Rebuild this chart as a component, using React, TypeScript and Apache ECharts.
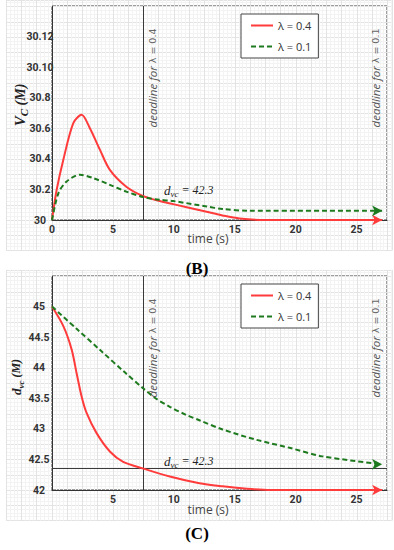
import React, { useEffect, useRef } from "react";
import * as echarts from "echarts";

// ---------- data ----------
const seriesNames = ["λ = 0.4", "λ = 0.1"];

// Panel B: V_C, plotted on a 0..7 index scale with custom labels
const bYLabels = ["30", "30.2", "30.4", "30.6", "30.8", "30.10", "30.12"];
const bRedT = [0, 0.38, 0.93, 1.75, 2.43, 3.11, 3.93, 4.75, 6.1, 7.5, 8.85, 9.95, 12.7, 14, 15.4, 17.5, 27.1];
const bRedV = [0, 0.98, 1.97, 3.17, 3.44, 3.0, 2.3, 1.64, 1.09, 0.78, 0.62, 0.52, 0.27, 0.15, 0.05, 0, 0];
const bGreenT = [0, 0.52, 1.2, 2.3, 3.39, 4.75, 6.1, 7.5, 8.85, 9.95, 12.7, 14, 16.2, 27.1];
const bGreenV = [0, 0.87, 1.26, 1.48, 1.37, 1.15, 0.93, 0.75, 0.66, 0.62, 0.44, 0.36, 0.3, 0.3];

// Panel C: d_vc
const cYLabels = ["42", "42.5", "43", "43.5", "44", "44.5", "45"];
const cRedT = [0, 0.93, 1.61, 2.02, 2.43, 2.84, 3.66, 4.75, 5.84, 7.5, 9.67, 12.1, 14, 16, 18, 27.1];
const cRedV = [45, 44.68, 44.3, 43.91, 43.53, 43.26, 42.93, 42.63, 42.46, 42.35, 42.22, 42.11, 42.06, 42.02, 42, 42];
const cGreenT = [0, 2, 4, 6, 7.5, 8.5, 9.67, 11, 12.1, 14, 16.8, 19.5, 22.2, 27.1];
const cGreenV = [45, 44.64, 44.28, 43.92, 43.66, 43.5, 43.36, 43.23, 43.14, 42.99, 42.82, 42.69, 42.55, 42.42];

const deadline04 = 7.5;
const dvcLine = 42.35;
const xTicks = [0, 5, 10, 15, 20, 25];

const RED = "#ff3b3b";
const GREEN = "#1e7a1e";

function mkSeries(name: string, t: number[], v: number[], color: string, dashed: boolean, axis: number, markLineData?: any[]) {
  const data = t.map((x, i) =>
    i === t.length - 1
      ? { value: [x, v[i]], symbol: "arrow", symbolSize: [8, 10], symbolRotate: -90, itemStyle: { color } }
      : [x, v[i]]
  );
  const s: any = {
    type: "line",
    name,
    xAxisIndex: axis,
    yAxisIndex: axis,
    data,
    smooth: 0.3,
    symbol: "none",
    lineStyle: { color, width: 2, type: dashed ? [5, 3] : "solid" },
    itemStyle: { color },
    z: 5,
  };
  if (markLineData) {
    s.markLine = {
      silent: true,
      symbol: "none",
      label: { show: false },
      lineStyle: { color: "#3a3a3a", width: 1, type: "solid" },
      data: markLineData,
    };
  }
  return s;
}

function bgAxes(gridIndex: number) {
  const common = {
    gridIndex,
    type: "value",
    min: 0,
    interval: 1,
    axisLine: { show: false },
    axisTick: { show: false },
    axisLabel: { show: false },
    splitLine: { show: true, lineStyle: { color: "#e3e3e3", width: 1 } },
    minorTick: { show: false, splitNumber: 4 },
    minorSplitLine: { show: true, lineStyle: { color: "#f3f3f3", width: 1 } },
  };
  return {
    x: { ...common, max: 25.3 },
    y: { ...common, max: 16.43 },
  };
}

const tickFont = { color: "#333", fontSize: 10.5, fontWeight: "bold" as const, fontFamily: "Roboto" };

function dataXAxis(gridIndex: number, showZero: boolean) {
  return {
    gridIndex,
    type: "value",
    min: 0,
    max: 27.5,
    interval: 5,
    axisLine: { show: true, lineStyle: { color: "#333", width: 1 } },
    axisTick: { show: false },
    splitLine: { show: false },
    axisLabel: {
      ...tickFont,
      margin: 4,
      formatter: (v: number) => (xTicks.includes(v) && (showZero || v !== 0) ? String(v) : ""),
    },
  };
}

function deadlineText(x: number, y: number, lam: string) {
  return {
    type: "text",
    x,
    y,
    rotation: Math.PI / 2,
    z: 10,
    style: {
      text: `{a|deadline for }{b|λ = ${lam}}`,
      align: "center",
      verticalAlign: "middle",
      rich: {
        a: { fontSize: 11.5, fontStyle: "italic", fontFamily: "Open Sans", fill: "#555" },
        b: { fontSize: 9.5, fontFamily: "DejaVu Sans", fill: "#666" },
      },
    },
  };
}

function dvcText(x: number, y: number) {
  return {
    type: "text",
    x,
    y,
    z: 10,
    style: {
      text: "{d|d}{s|vc}{t| = 42.3}",
      align: "left",
      verticalAlign: "middle",
      rich: {
        d: { fontSize: 13, fontStyle: "italic", fontFamily: "Liberation Serif", fill: "#222", lineHeight: 16 },
        s: { fontSize: 9, fontStyle: "italic", fontFamily: "Liberation Serif", fill: "#222", verticalAlign: "bottom", lineHeight: 10 },
        t: { fontSize: 12, fontStyle: "italic", fontFamily: "Liberation Serif", fill: "#222", lineHeight: 16 },
      },
    },
  };
}

function yTitle(x: number, y: number, main: string, sub: string, size: number) {
  return {
    type: "text",
    x,
    y,
    rotation: Math.PI / 2,
    z: 10,
    style: {
      text: `{m|${main}}{s|${sub}}{p| (M)}`,
      align: "center",
      verticalAlign: "middle",
      rich: {
        m: { fontSize: size, fontStyle: "italic", fontWeight: "bold", fontFamily: "Liberation Serif", fill: "#222", lineHeight: 18 },
        s: { fontSize: size - 4, fontStyle: "italic", fontWeight: "bold", fontFamily: "Liberation Serif", fill: "#222", verticalAlign: "bottom", lineHeight: 12 },
        p: { fontSize: size - 1, fontStyle: "italic", fontWeight: "bold", fontFamily: "Liberation Serif", fill: "#222", lineHeight: 18 },
      },
    },
  };
}

function plainText(x: number, y: number, text: string, font: any) {
  return {
    type: "text",
    x,
    y,
    z: 10,
    style: { text, align: "center", verticalAlign: "middle", ...font },
  };
}

function legendAt(top: number) {
  return {
    data: seriesNames,
    orient: "vertical",
    left: 241,
    top,
    padding: [6, 7, 6, 9],
    itemGap: 10,
    itemWidth: 22,
    itemHeight: 12,
    borderColor: "#444",
    borderWidth: 1,
    backgroundColor: "#fff",
    selectedMode: false,
    itemStyle: { opacity: 0 },
    textStyle: { fontSize: 11, color: "#333", fontFamily: "Open Sans" },
  };
}

export default function App() {
  const ref = useRef<HTMLDivElement>(null);
  useEffect(() => {
    const chart = echarts.init(ref.current!, null, { renderer: "svg" });
    const bgB = bgAxes(0);
    const bgC = bgAxes(2);
    const option: any = {
      animation: false,
      backgroundColor: "#fff",
      grid: [
        { left: 6.25, top: 0, width: 385.75, height: 250.5 },
        { left: 52, top: 6, right: 7, height: 214, show: true, borderColor: "#3a3a3a", borderWidth: 1, backgroundColor: "transparent" },
        { left: 6.25, top: 270, width: 385.75, height: 250.5 },
        { left: 52, top: 276, right: 7, height: 214, show: true, borderColor: "#3a3a3a", borderWidth: 1, backgroundColor: "transparent" },
      ],
      xAxis: [bgB.x, dataXAxis(1, true), bgC.x, dataXAxis(3, false)],
      yAxis: [
        bgB.y,
        {
          gridIndex: 1,
          type: "value",
          min: 0,
          max: 7,
          interval: 1,
          axisLine: { show: true, lineStyle: { color: "#333" } },
          axisTick: { show: false },
          splitLine: { show: false },
          axisLabel: { ...tickFont, align: "center", margin: 12, formatter: (v: number) => bYLabels[Math.round(v)] ?? "" },
        },
        bgC.y,
        {
          gridIndex: 3,
          type: "value",
          min: 42,
          max: 45.5,
          interval: 0.5,
          axisLine: { show: true, lineStyle: { color: "#333" } },
          axisTick: { show: false },
          splitLine: { show: false },
          axisLabel: {
            ...tickFont,
            align: "center",
            margin: 13,
            formatter: (v: number) => (cYLabels.includes(String(v)) ? String(v) : ""),
          },
        },
      ],
      legend: [legendAt(14), legendAt(284)],
      series: [
        { type: "line", xAxisIndex: 0, yAxisIndex: 0, data: [], silent: true },
        { type: "line", xAxisIndex: 2, yAxisIndex: 2, data: [], silent: true },
        mkSeries(seriesNames[0], bRedT, bRedV, RED, false, 1, [{ xAxis: deadline04 }]),
        mkSeries(seriesNames[1], bGreenT, bGreenV, GREEN, true, 1),
        mkSeries(seriesNames[0], cRedT, cRedV, RED, false, 3, [{ xAxis: deadline04 }, { yAxis: dvcLine }]),
        mkSeries(seriesNames[1], cGreenT, cGreenV, GREEN, true, 3),
      ],
      graphic: [
        deadlineText(152, 78, "0.4"),
        deadlineText(375, 78, "0.1"),
        deadlineText(152, 348, "0.4"),
        deadlineText(375, 348, "0.1"),
        dvcText(164, 190),
        dvcText(164, 461),
        yTitle(20, 105, "V", "C", 15),
        yTitle(16, 377, "d", "vc", 13),
        plainText(208, 238, "time (s)", { fontSize: 12, fill: "#444", fontFamily: "Open Sans" }),
        plainText(208, 509, "time (s)", { fontSize: 12, fill: "#444", fontFamily: "Open Sans" }),
        plainText(197, 268, "(B)", { fontSize: 17, fontWeight: "bold", fill: "#000", fontFamily: "Liberation Serif" }),
        plainText(197, 533, "(C)", { fontSize: 17, fontWeight: "bold", fill: "#000", fontFamily: "Liberation Serif" }),
      ],
    };
    chart.setOption(option);
    return () => chart.dispose();
  }, []);
  return (
    <div
      ref={ref}
      style={{ position: "fixed", left: 0, top: 0, width: 394, height: 550, background: "#fff" }}
    />
  );
}
